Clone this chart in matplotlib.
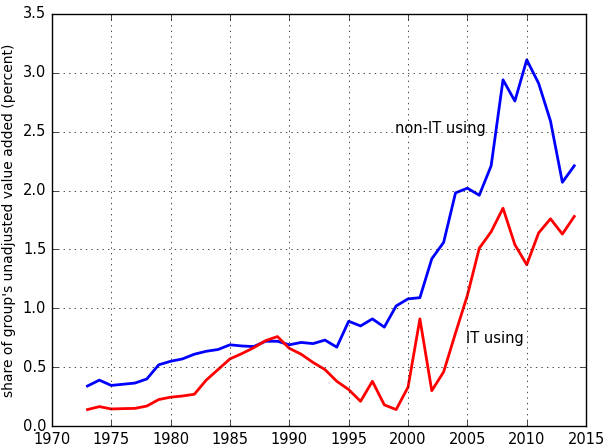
import numpy as np
import matplotlib as mpl
mpl.use("Agg")
import matplotlib.pyplot as plt

plt.style.use("classic")

years = list(range(1973, 2015))
non_it = [0.34, 0.39, 0.345, 0.355, 0.365, 0.40, 0.52, 0.55, 0.57, 0.61,
          0.635, 0.65, 0.69, 0.68, 0.675, 0.72, 0.72, 0.69, 0.71, 0.70,
          0.73, 0.67, 0.89, 0.85, 0.91, 0.84, 1.02, 1.08, 1.09, 1.42,
          1.56, 1.98, 2.02, 1.96, 2.21, 2.94, 2.76, 3.11, 2.91, 2.59,
          2.07, 2.21]
it_using = [0.14, 0.165, 0.145, 0.148, 0.15, 0.17, 0.225, 0.245, 0.255, 0.27,
            0.39, 0.48, 0.57, 0.615, 0.665, 0.725, 0.76, 0.66, 0.61, 0.54,
            0.48, 0.38, 0.31, 0.21, 0.38, 0.18, 0.14, 0.33, 0.91, 0.30,
            0.46, 0.79, 1.11, 1.51, 1.65, 1.85, 1.54, 1.37, 1.64, 1.76,
            1.63, 1.78]

fig = plt.figure(figsize=(6.03, 4.48), dpi=100, facecolor="white")
ax = fig.add_axes([0.086, 0.049, 0.886, 0.92])

ax.plot(years, non_it, color="blue", lw=2)
ax.plot(years, it_using, color="red", lw=2)

ax.text(1998.9, 2.53, "non-IT using", fontsize=10.5, va="center")
ax.text(2004.9, 0.74, "IT using", fontsize=10.5, va="center")

ax.set_xlim(1970, 2015)
ax.set_ylim(0, 3.5)
ax.set_xticks(np.arange(1970, 2016, 5))
ax.set_yticks(np.arange(0, 3.51, 0.5))
ax.xaxis.get_major_formatter().set_useOffset(False)
ax.tick_params(labelsize=10.5)
ax.set_ylabel("share of group's unadjusted value added (percent)", fontsize=10)
ax.grid(True)

fig.savefig("out.png", dpi=100, facecolor="white")
